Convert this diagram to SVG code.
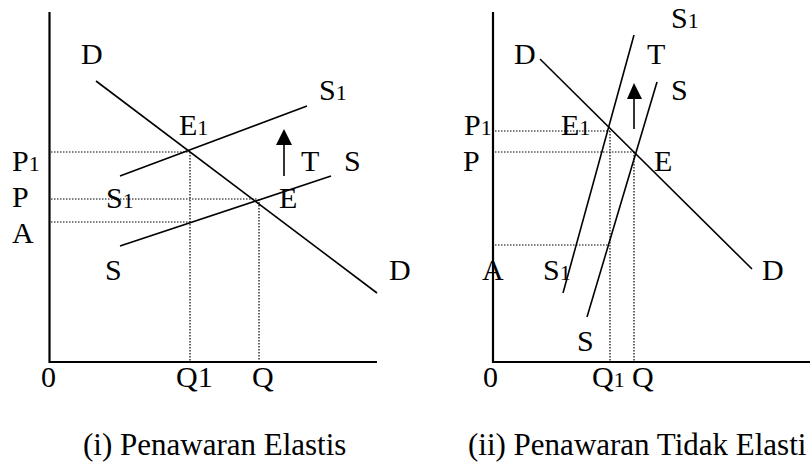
<svg xmlns="http://www.w3.org/2000/svg" width="810" height="465" viewBox="0 0 810 465">
<style>
text{font-family:"Liberation Serif","Times New Roman",serif;font-size:30px;fill:#000}
.sub{font-size:22px}
.cap{font-size:31px}
.axis{stroke:#000;stroke-width:2.2;fill:none}
.ln{stroke:#000;stroke-width:1.6;fill:none}
.dot{stroke:#000;stroke-width:1.2;stroke-dasharray:1.5 1.5;fill:none}
</style>
<rect width="810" height="465" fill="#fff"/>
<g id="panel-left">
  <g id="left-guides">
    <line class="dot" x1="51" y1="152" x2="189" y2="152"/>
    <line class="dot" x1="51" y1="199" x2="257" y2="199"/>
    <line class="dot" x1="51" y1="222" x2="190" y2="222"/>
    <line class="dot" x1="190" y1="152" x2="190" y2="361"/>
    <line class="dot" x1="259" y1="199" x2="259" y2="361"/>
  </g>
  <g id="left-axes">
    <polyline class="axis" points="49.5,12 49.5,362 377,362"/>
  </g>
  <g id="left-curves">
    <line class="ln" x1="96" y1="81" x2="377" y2="293"/>
    <line class="ln" x1="120" y1="176" x2="307" y2="106"/>
    <line class="ln" x1="120" y1="246" x2="331" y2="176"/>
    <line class="ln" x1="284" y1="176" x2="284" y2="143"/>
    <polygon points="276,145 292,145 284,129" fill="#000"/>
  </g>
  <g id="left-labels">
    <text x="81" y="64">D</text>
    <text x="319" y="100">S<tspan class="sub">1</tspan></text>
    <text x="179" y="135">E<tspan class="sub">1</tspan></text>
    <text x="12" y="171">P<tspan class="sub">1</tspan></text>
    <text x="12" y="207">P</text>
    <text x="12" y="243">A</text>
    <text x="106" y="208">S<tspan class="sub">1</tspan></text>
    <text x="301" y="171">T</text>
    <text x="344" y="171">S</text>
    <text x="279" y="208">E</text>
    <text x="105" y="280">S</text>
    <text x="389" y="280">D</text>
    <text x="41" y="387">0</text>
    <text x="176" y="387">Q1</text>
    <text x="252" y="387">Q</text>
  </g>
  <text class="cap" x="83" y="455">(i) Penawaran Elastis</text>
</g>
<g id="panel-right">
  <g id="right-guides">
    <line class="dot" x1="495" y1="131" x2="610" y2="131"/>
    <line class="dot" x1="495" y1="152" x2="635" y2="152"/>
    <line class="dot" x1="495" y1="245" x2="609" y2="245"/>
    <line class="dot" x1="610" y1="131" x2="610" y2="361"/>
    <line class="dot" x1="634" y1="152" x2="634" y2="361"/>
  </g>
  <g id="right-axes">
    <polyline class="axis" points="493,12 493,362 810,362"/>
  </g>
  <g id="right-curves">
    <line class="ln" x1="540" y1="59" x2="752" y2="269"/>
    <line class="ln" x1="634" y1="35" x2="563" y2="293"/>
    <line class="ln" x1="657" y1="82" x2="587" y2="317"/>
    <line class="ln" x1="634" y1="129" x2="634" y2="97"/>
    <polygon points="627,99 642,99 634,83" fill="#000"/>
  </g>
  <g id="right-labels">
    <text x="671" y="28">S<tspan class="sub">1</tspan></text>
    <text x="647" y="64">T</text>
    <text x="514" y="64">D</text>
    <text x="671" y="100">S</text>
    <text x="464" y="135">P<tspan class="sub">1</tspan></text>
    <text x="561" y="135">E<tspan class="sub">1</tspan></text>
    <text x="463" y="171">P</text>
    <text x="654" y="171">E</text>
    <text x="482" y="280">A</text>
    <text x="543" y="280">S<tspan class="sub">1</tspan></text>
    <text x="762" y="280">D</text>
    <text x="577" y="351">S</text>
    <text x="483" y="387">0</text>
    <text x="592" y="387">Q<tspan class="sub">1</tspan></text>
    <text x="632" y="387">Q</text>
  </g>
  <text class="cap" x="468" y="455">(ii) Penawaran Tidak Elasti</text>
</g>
</svg>
